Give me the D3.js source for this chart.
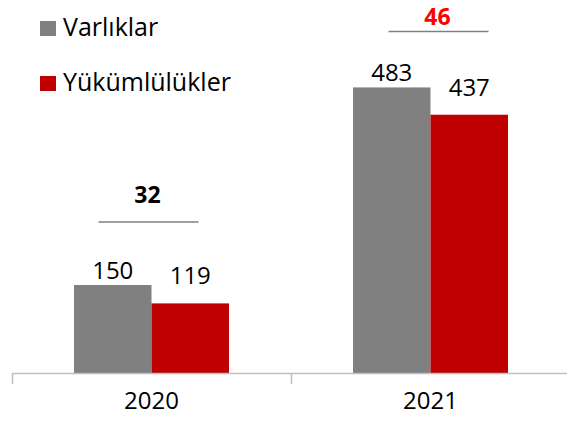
<!DOCTYPE html>
<html>
<head>
<meta charset="utf-8">
<script src="https://cdn.jsdelivr.net/npm/d3@7"></script>
<style>
body { margin: 0; background: #fff; }
text { font-family: "Open Sans", sans-serif; }
</style>
</head>
<body>
<div id="chart"></div>
<script>
var years = ["2020", "2021"];
var seriesNames = ["Varlıklar", "Yükümlülükler"];
var varliklar = [150, 483];
var yukumlulukler = [119, 437];
var differences = ["32", "46"];

function init() {
var w = 567;
var h = 421;
var colors = ["#808080", "#c00000"];
var labelGap = [6, 19];
var diffColors = ["#000000", "#ff0000"];
var diffNudge = [-3, 8];
var diffLineGap = [63, 56];
var diffTextGap = [19, 6];

var values = [varliklar, yukumlulukler];

var svg = d3.select("#chart")
            .append("svg")
            .attr("width", w)
            .attr("height", h);

var x = d3.scaleBand()
    .domain(years)
    .range([12, 570])
    .paddingInner(0)
    .paddingOuter(0);

var xSub = d3.scaleBand()
    .domain(seriesNames)
    .range([0, x.bandwidth()])
    .paddingInner(0)
    .paddingOuter(0.8);

var y = d3.scaleLinear()
    .domain([0, 600])
    .range([374, 18]);

// bars + value labels
seriesNames.forEach(function(name, s) {
    svg.selectAll("rect.s" + s)
        .data(values[s])
        .enter()
        .append("rect")
        .attr("class", "s" + s)
        .attr("x", function(d, i) { return x(years[i]) + xSub(name); })
        .attr("y", function(d) { return y(d); })
        .attr("width", xSub.bandwidth())
        .attr("height", function(d) { return y(0) - y(d); })
        .attr("fill", colors[s]);

    svg.selectAll("text.v" + s)
        .data(values[s])
        .enter()
        .append("text")
        .attr("class", "v" + s)
        .text(function(d) { return d; })
        .attr("x", function(d, i) { return x(years[i]) + xSub(name) + xSub.bandwidth() / 2; })
        .attr("y", function(d) { return y(d) - labelGap[s]; })
        .attr("text-anchor", "middle")
        .attr("font-size", 24)
        .attr("fill", "#000");
});

// difference annotations
years.forEach(function(yr, i) {
    var top = y(Math.max(varliklar[i], yukumlulukler[i]));
    var cx = x(yr) + x.bandwidth() / 2 + diffNudge[i];
    var ly = top - diffLineGap[i];
    svg.append("line")
        .attr("x1", cx - 50)
        .attr("x2", cx + 50)
        .attr("y1", ly)
        .attr("y2", ly)
        .attr("stroke", "#808080")
        .attr("stroke-width", 1.5);
    svg.append("text")
        .text(differences[i])
        .attr("x", cx - 1)
        .attr("y", ly - diffTextGap[i])
        .attr("text-anchor", "middle")
        .attr("font-size", 23)
        .attr("font-weight", "bold")
        .attr("fill", diffColors[i]);
});

// x axis
var axis = svg.append("g");
axis.append("line")
    .attr("x1", x.range()[0])
    .attr("x2", w)
    .attr("y1", 373.5)
    .attr("y2", 373.5)
    .attr("stroke", "#bfbfbf")
    .attr("stroke-width", 1.5);
axis.selectAll("line.tick")
    .data(years.map(function(d) { return x(d); }).concat([x.range()[1]]))
    .enter()
    .append("line")
    .attr("class", "tick")
    .attr("x1", function(d) { return d + 0.5; })
    .attr("x2", function(d) { return d + 0.5; })
    .attr("y1", 373)
    .attr("y2", 384)
    .attr("stroke", "#bfbfbf")
    .attr("stroke-width", 1.5);
axis.selectAll("text")
    .data(years)
    .enter()
    .append("text")
    .text(function(d) { return d; })
    .attr("x", function(d) { return x(d) + x.bandwidth() / 2; })
    .attr("y", 409)
    .attr("text-anchor", "middle")
    .attr("font-size", 24)
    .attr("fill", "#000");

// legend
var legend = svg.selectAll("g.legend")
    .data(seriesNames)
    .enter()
    .append("g")
    .attr("class", "legend")
    .attr("transform", function(d, i) { return "translate(40," + (21 + i * 55) + ")"; });
legend.append("rect")
    .attr("width", 16)
    .attr("height", 15)
    .attr("fill", function(d, i) { return colors[i]; });
legend.append("text")
    .text(function(d) { return d; })
    .attr("x", 23)
    .attr("y", 15)
    .attr("font-size", 25)
    .attr("fill", "#000");
}

window.onload = init;
</script>
</body>
</html>
